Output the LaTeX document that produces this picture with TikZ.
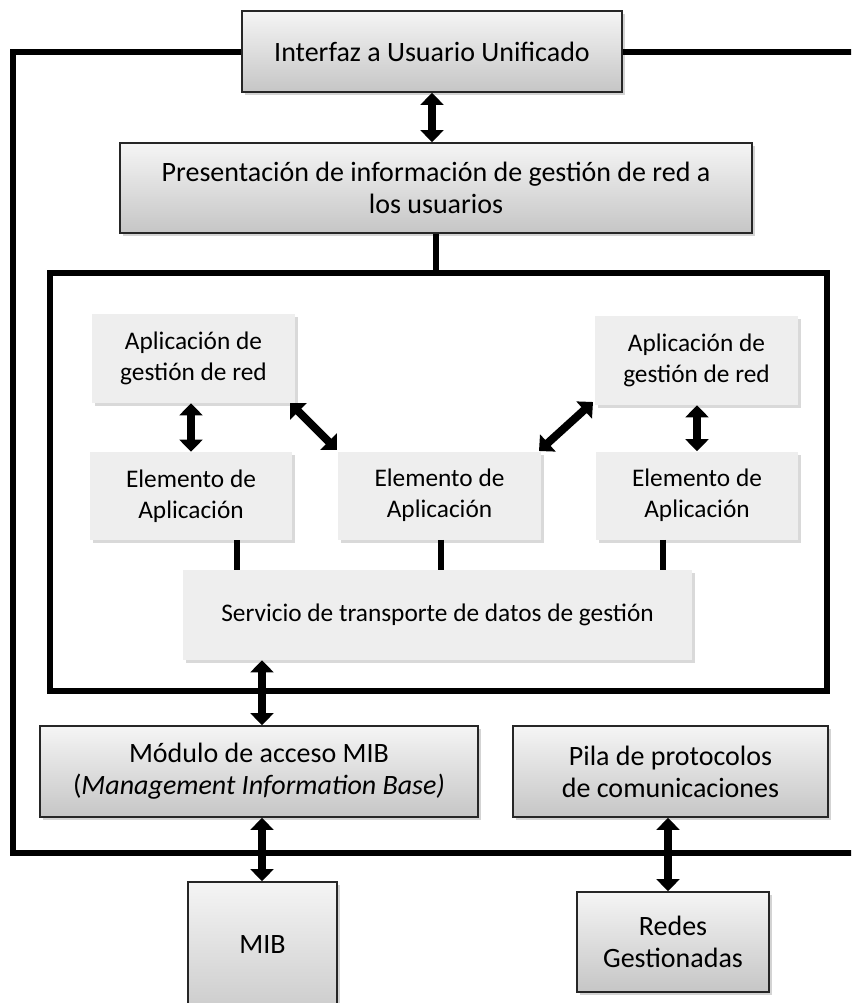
\documentclass[tikz,border=0pt]{standalone}
\usepackage{fontspec}
\setmainfont{Carlito}
\usetikzlibrary{arrows.meta,shadows}
\begin{document}
\begin{tikzpicture}[x=0.75pt,y=-0.75pt,
  sz/.style 2 args={minimum width=#1*0.75pt,minimum height=#2*0.75pt},
  gbox/.style={draw=black!85,line width=1.2pt,top color=gray!8,bottom color=gray!45,inner sep=0pt,align=center,
     font=\fontsize{21}{24}\selectfont,
     drop shadow={shadow xshift=2pt,shadow yshift=-2.5pt,opacity=0.35}},
  fbox/.style={fill=gray!13,inner sep=0pt,align=center,
     font=\fontsize{19}{23.5}\selectfont,
     drop shadow={shadow xshift=2pt,shadow yshift=-2.5pt,opacity=0.3}},
  frame/.style={line width=4.5pt},
  link/.style={line width=4pt},
  dbl/.style={line width=6pt,{Triangle[width=17pt,length=9pt]}-{Triangle[width=17pt,length=9pt]}}
]
\useasboundingbox (0,0) rectangle (851,1003);
\clip (0,0) rectangle (851,1003);
% outer frame corners
\coordinate (otl) at (13,52);
\coordinate (otr) at (860,52);
\coordinate (obl) at (13,853);
\coordinate (obr) at (860,853);
% nodes
\node[gbox,sz={380}{81}] (top) at (432,51.5) {Interfaz a Usuario Unificado};
\node[gbox,sz={632}{90}] (pres) at (436,188) {Presentación de información de gestión de red a\\los usuarios};
\node[frame,draw,sz={777}{418},inner sep=0pt] (inner) at (438.5,482) {};
\node[fbox,sz={203}{89}] (appL) at (193.5,358.5) {Aplicación de\\gestión de red};
\node[fbox,sz={203}{89}] (appR) at (696.5,360.5) {Aplicación de\\gestión de red};
\node[fbox,sz={202}{88}] (elL) at (191,496) {Elemento de\\Aplicación};
\node[fbox,sz={203}{88}] (elM) at (439.5,495.5) {Elemento de\\Aplicación};
\node[fbox,sz={202}{88}] (elR) at (697,495.5) {Elemento de\\Aplicación};
\node[fbox,sz={509}{90}] (serv) at (437.5,615) {Servicio de transporte de datos de gestión};
\node[gbox,sz={438}{91}] (mod) at (259,771.5) {Módulo de acceso MIB\\(\textit{Management Information Base)}};
\node[gbox,sz={315}{91}] (pila) at (670.5,771.5) {Pila de protocolos\\de comunicaciones};
\node[gbox,sz={149}{150}] (mib) at (262.5,957) {};
\node[font=\fontsize{21}{24}\selectfont] (mibt) at (262.5,945) {MIB};
\node[gbox,sz={192}{100}] (redes) at (673,942) {Redes\\Gestionadas};
% frame lines
\draw[frame] (top.west |- otl) -- (otl) -- (obl) -- (obr);
\draw[frame] (top.east |- otr) -- (otr);
% links
\draw[link] (pres.south) -- (pres.south |- inner.north);
\draw[link] (elL.south -| 237,0) -- (serv.north -| 237,0);
\draw[link] (elM.south -| 441,0) -- (serv.north -| 441,0);
\draw[link] (elR.south -| 663,0) -- (serv.north -| 663,0);
% diagonal arrow ends
\coordinate (a1) at (290,403);
\coordinate (b1) at (337,450);
\coordinate (a2) at (593,402);
\coordinate (b2) at (539,451);
% arrows
\draw[dbl] (top.south -| 432,0) -- (pres.north -| 432,0);
\draw[dbl] (appL.south -| 191,0) -- (elL.north -| 191,0);
\draw[dbl] (appR.south -| 697,0) -- (elR.north -| 697,0);
\draw[dbl] (a1) -- (b1);
\draw[dbl] (a2) -- (b2);
\draw[dbl] (serv.south -| 262,0) -- (mod.north -| 262,0);
\draw[dbl] (mod.south -| 262,0) -- (mib.north -| 262,0);
\draw[dbl] (pila.south -| 668,0) -- (redes.north -| 668,0);
\end{tikzpicture}
\end{document}
